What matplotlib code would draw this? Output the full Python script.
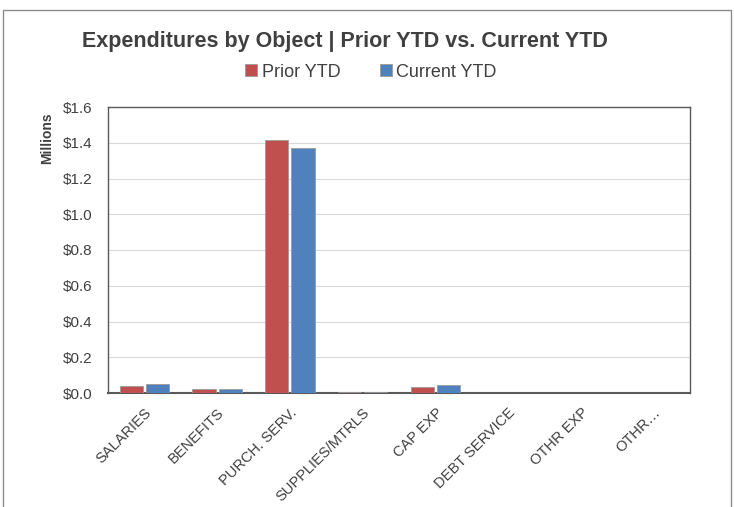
import numpy as np
import matplotlib
matplotlib.use("Agg")
import matplotlib.pyplot as plt
from matplotlib.patches import Rectangle

plt.rcParams['font.family'] = ['Liberation Sans', 'DejaVu Sans']

categories = ["SALARIES", "BENEFITS", "PURCH. SERV.", "SUPPLIES/MTRLS",
              "CAP EXP", "DEBT SERVICE", "OTHR EXP", "OTHR…"]
prior_ytd = [0.039, 0.022, 1.418, 0.005, 0.033, 0.0, 0.0, 0.0]
current_ytd = [0.050, 0.022, 1.372, 0.007, 0.047, 0.0, 0.0, 0.0]
yticks = [0.0, 0.2, 0.4, 0.6, 0.8, 1.0, 1.2, 1.4, 1.6]

red = "#C0504D"
blue = "#4F81BD"

fig = plt.figure(figsize=(7.34, 5.07), dpi=100)
ax = fig.add_axes([108 / 734, 1 - 393 / 507, 582 / 734, 286 / 507])

x = np.arange(len(categories))
w = 0.32
gap = 0.04
ax.bar(x - (w + gap) / 2, prior_ytd, w, color=red, edgecolor="#9a9a9a",
       linewidth=0.6, label="Prior YTD", zorder=3)
ax.bar(x + (w + gap) / 2, current_ytd, w, color=blue, edgecolor="#9a9a9a",
       linewidth=0.6, label="Current YTD", zorder=3)

ax.set_xlim(-0.5, len(categories) - 0.5)
ax.set_ylim(0, 1.6)
ax.set_yticks(yticks)
ax.set_yticklabels(["${:.1f}".format(v) for v in yticks], fontsize=11, color="#404040")
ax.set_xticks(x)
ax.set_xticklabels(categories, rotation=45, ha="right", rotation_mode="anchor",
                   fontsize=10.5, color="#404040")
ax.tick_params(axis="y", length=0, pad=11)
ax.tick_params(axis="x", length=0, pad=9)
ax.grid(axis="y", color="#d9d9d9", linewidth=0.8, zorder=0)
for s in ax.spines.values():
    s.set_color("#595959")
    s.set_linewidth(1.0)
ax.spines["bottom"].set_linewidth(1.5)

fig.text(345 / 734, 1 - 41 / 507,
         "Expenditures by Object | Prior YTD vs. Current YTD",
         ha="center", va="center", fontsize=15.5, fontweight="bold", color="#404040")
fig.text(47 / 734, 1 - 138 / 507, "Millions", rotation=90, ha="center",
         va="center", fontsize=10, fontweight="bold", color="#404040")

fig.legend(loc="center", bbox_to_anchor=(371 / 734, 1 - 72 / 507), ncol=2,
           frameon=False, fontsize=13, handlelength=0.65, handleheight=0.65,
           handletextpad=0.25, columnspacing=2.2, labelcolor="#404040")

fig.patches.append(Rectangle((3 / 734, -0.01), 728 / 734, 1 - 10 / 507 + 0.01,
                             transform=fig.transFigure, fill=False,
                             edgecolor="#8c8c8c", linewidth=1.0))

fig.savefig("out.png", dpi=100)
